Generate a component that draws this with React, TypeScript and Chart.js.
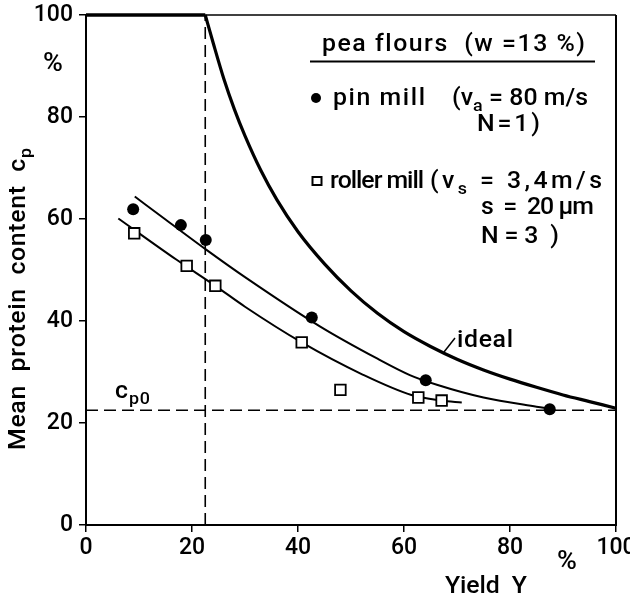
import React, { useEffect, useRef } from 'react';
import { Chart, registerables } from 'chart.js';

Chart.register(...registerables);

// ---- data ----
const pinMillX = [8.9, 17.9, 22.6, 42.6, 64.1, 87.5];
const pinMillY = [61.9, 58.8, 55.9, 40.7, 28.4, 22.7];

const rollerMillX = [9.1, 19.0, 24.4, 40.7, 48.0, 62.7, 67.1];
const rollerMillY = [57.2, 50.8, 46.9, 35.8, 26.5, 25.0, 24.4];

const pinFitX = [9.2, 15, 22.8, 30, 44.2, 55, 61.1, 66.2, 75, 85, 87.5];
const pinFitY = [64.4, 59.9, 53.9, 48.6, 38.9, 32.6, 29.4, 27.5, 25.0, 23.2, 22.8];

const rollerFitX = [6.1, 17.1, 24.4, 30, 40.7, 52, 61.4, 67.1, 70.9];
const rollerFitY = [60.1, 52.0, 46.9, 42.8, 35.8, 29.6, 25.5, 24.4, 24.0];

const idealX = [22.5, 24, 26, 28, 30, 33, 36, 40, 45, 50, 55, 60, 65, 70, 75, 80, 85, 90, 95, 100];
const idealY = [100, 94.5, 87.5, 81.5, 76.3, 69.5, 63.8, 57.5, 51.2, 45.9, 41.5, 37.9, 35.0, 32.5, 30.4, 28.6, 27.0, 25.5, 24.2, 22.9];

const plateauX = [0, 22.5];
const plateauY = [100, 100];

const cp0 = 22.5; // c_p0 level
const yieldAtCp0 = 22.5; // vertical dashed line

const xTicks = [0, 20, 40, 60, 80, 100];
const yTicks = [0, 20, 40, 60, 80, 100];

const FAMILY = 'Roboto, "DejaVu Sans", sans-serif';
const WEIGHT = '500';
const SIZE = 23;
const STRETCH = 1.08;

const pts = (xs: number[], ys: number[]) => xs.map((x, i) => ({ x, y: ys[i] }));

type Run = { t: string; sub?: boolean };

function drawRuns(ctx: CanvasRenderingContext2D, runs: Run[], x: number, y: number, width: number, size: number = SIZE) {
  const subSize = size * 0.72;
  let natural = 0;
  let n = 0;
  for (const r of runs) {
    ctx.font = `${WEIGHT} ${r.sub ? subSize : size}px ${FAMILY}`;
    for (const ch of r.t) {
      natural += ctx.measureText(ch).width;
      n++;
    }
  }
  const sx = STRETCH;
  const ls = n > 1 ? (width - natural * sx) / (n - 1) : 0;
  let cx = x;
  for (const r of runs) {
    ctx.font = `${WEIGHT} ${r.sub ? subSize : size}px ${FAMILY}`;
    for (const ch of r.t) {
      ctx.save();
      ctx.translate(cx, r.sub ? y + size * 0.28 : y);
      ctx.scale(sx, 1);
      ctx.fillText(ch, 0, 0);
      ctx.restore();
      cx += ctx.measureText(ch).width * sx + ls;
    }
  }
}

const annotations = {
  id: 'annotations',
  afterDatasetsDraw(chart: any) {
    const ctx: CanvasRenderingContext2D = chart.ctx;
    const { left, right, top, bottom } = chart.chartArea;
    ctx.save();
    ctx.strokeStyle = '#000';
    ctx.fillStyle = '#000';
    // frame: top and right
    ctx.lineWidth = 1.5;
    ctx.beginPath();
    ctx.moveTo(left, top);
    ctx.lineTo(right, top);
    ctx.stroke();
    ctx.lineWidth = 2;
    ctx.beginPath();
    ctx.moveTo(right, top);
    ctx.lineTo(right, bottom + 1);
    ctx.stroke();

    ctx.textBaseline = 'alphabetic';
    ctx.textAlign = 'left';

    // legend box text
    drawRuns(ctx, [{ t: 'pea flours  (w =13 %)' }], 322, 51, 263);
    ctx.lineWidth = 2;
    ctx.beginPath();
    ctx.moveTo(310, 61.5);
    ctx.lineTo(595, 61.5);
    ctx.stroke();

    ctx.beginPath();
    ctx.arc(316, 98, 5, 0, Math.PI * 2);
    ctx.fill();
    drawRuns(ctx, [{ t: 'pin mill' }], 333, 105, 92);
    drawRuns(ctx, [{ t: '(v' }, { t: 'a', sub: true }, { t: ' = 80 m/s' }], 452, 105, 136);
    drawRuns(ctx, [{ t: 'N = 1 )' }], 477, 131, 63);

    ctx.lineWidth = 2;
    ctx.strokeRect(312.5, 177, 9, 8);
    drawRuns(ctx, [{ t: 'roller mill' }], 330, 188, 94);
    drawRuns(ctx, [{ t: '(v' }, { t: 's', sub: true }, { t: ' = 3,4m/s' }], 430, 188, 172);
    drawRuns(ctx, [{ t: 's  =  20 µm' }], 481, 214, 113);
    drawRuns(ctx, [{ t: 'N = 3  )' }], 481, 243, 78);

    // ideal label with leader
    drawRuns(ctx, [{ t: 'ideal' }], 457, 347, 56);
    ctx.lineWidth = 1.5;
    ctx.beginPath();
    ctx.moveTo(444, 352);
    ctx.lineTo(455, 338);
    ctx.stroke();

    // c_p0 label
    drawRuns(ctx, [{ t: 'c' }, { t: 'p0', sub: true }], 115, 398, 35);

    // units
    drawRuns(ctx, [{ t: '%' }], 43, 71, 22, 25);
    drawRuns(ctx, [{ t: '%' }], 557, 569, 21, 25);

    // x title
    drawRuns(ctx, [{ t: 'Yield  Y' }], 445, 593, 82);

    // y title (rotated)
    ctx.save();
    ctx.translate(25, 450);
    ctx.rotate(-Math.PI / 2);
    drawRuns(ctx, [{ t: 'Mean  protein  content  c' }, { t: 'p', sub: true }], 0, 0, 302);
    ctx.restore();

    ctx.restore();
  },
};

export default function App() {
  const ref = useRef<HTMLCanvasElement | null>(null);

  useEffect(() => {
    if (!ref.current) return;
    const tickFont = { family: FAMILY, size: 23, weight: WEIGHT };
    const chart = new Chart(ref.current, {
      type: 'line',
      data: {
        datasets: [
          {
            label: 'pin mill',
            data: pts(pinMillX, pinMillY),
            showLine: false,
            pointStyle: 'circle',
            pointRadius: 6,
            pointBackgroundColor: '#000',
            pointBorderColor: '#000',
            pointBorderWidth: 0,
          },
          {
            label: 'roller mill',
            data: pts(rollerMillX, rollerMillY),
            showLine: false,
            pointStyle: 'rect',
            pointRadius: 7.5,
            pointBackgroundColor: '#fff',
            pointBorderColor: '#000',
            pointBorderWidth: 1.8,
          },
          {
            label: 'pin mill fit',
            data: pts(pinFitX, pinFitY),
            borderColor: '#000',
            borderWidth: 2,
            pointRadius: 0,
            cubicInterpolationMode: 'monotone',
          },
          {
            label: 'roller mill fit',
            data: pts(rollerFitX, rollerFitY),
            borderColor: '#000',
            borderWidth: 2,
            pointRadius: 0,
            cubicInterpolationMode: 'monotone',
          },
          {
            label: 'ideal',
            data: pts(idealX, idealY),
            borderColor: '#000',
            borderWidth: 3.2,
            pointRadius: 0,
            cubicInterpolationMode: 'monotone',
            clip: false,
          },
          {
            label: 'plateau',
            data: pts(plateauX, plateauY),
            borderColor: '#000',
            borderWidth: 3.5,
            pointRadius: 0,
            clip: false,
          },
          {
            label: 'cp0',
            data: [
              { x: 0, y: cp0 },
              { x: 100, y: cp0 },
            ],
            borderColor: '#000',
            borderWidth: 1.6,
            borderDash: [12, 6],
            pointRadius: 0,
          },
          {
            label: 'Y at cp0',
            data: [
              { x: yieldAtCp0, y: 0 },
              { x: yieldAtCp0, y: 100 },
            ],
            borderColor: '#000',
            borderWidth: 1.6,
            borderDash: [12, 6],
            pointRadius: 0,
          },
        ],
      },
      options: {
        animation: false,
        responsive: false,
        events: [],
        layout: { padding: { left: 0, top: 15, right: 14, bottom: 0 } },
        plugins: { legend: { display: false }, tooltip: { enabled: false } },
        scales: {
          x: {
            type: 'linear',
            min: 0,
            max: 100,
            afterBuildTicks: (s: any) => {
              s.ticks = xTicks.map((v) => ({ value: v }));
            },
            afterFit: (s: any) => {
              s.height = 70;
              s.paddingLeft = 0;
              s.paddingRight = 0;
            },
            ticks: {
              color: '#000',
              font: tickFont,
              padding: 2,
              maxRotation: 0,
              autoSkip: false,
            },
            grid: {
              drawOnChartArea: false,
              drawTicks: true,
              tickLength: 7,
              color: '#000',
              lineWidth: 1.5,
            },
            border: { display: true, color: '#000', width: 2 },
          },
          y: {
            type: 'linear',
            min: 0,
            max: 100,
            afterBuildTicks: (s: any) => {
              s.ticks = yTicks.map((v) => ({ value: v }));
            },
            afterFit: (s: any) => {
              s.width = 86;
              s.paddingTop = 0;
              s.paddingBottom = 0;
            },
            ticks: {
              color: '#000',
              font: tickFont,
              padding: 6,
              autoSkip: false,
            },
            grid: {
              drawOnChartArea: false,
              drawTicks: true,
              tickLength: 7,
              color: '#000',
              lineWidth: 1.5,
            },
            border: { display: true, color: '#000', width: 2 },
          },
        },
      },
      plugins: [annotations],
    } as any);
    return () => chart.destroy();
  }, []);

  return (
    <div style={{ position: 'fixed', left: 0, top: 0, width: 630, height: 595, background: '#fff' }}>
      <canvas ref={ref} width={630} height={595} style={{ width: 630, height: 595, display: 'block' }} />
    </div>
  );
}
